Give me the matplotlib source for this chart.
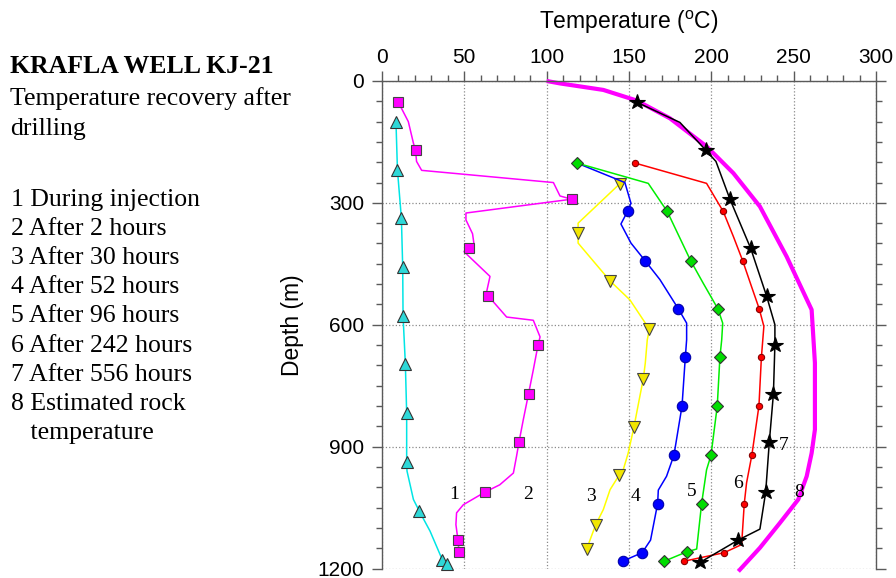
import matplotlib
matplotlib.use('Agg')
import matplotlib.pyplot as plt
from matplotlib.ticker import MultipleLocator

# 1 during injection
t1 = [8.5, 9.4, 11.8, 12.6, 12.8, 14.2, 15.0, 15.0, 15.2, 19.1, 22.7, 29.2, 36.6, 39.7]
d1 = [100, 219, 338, 459, 578, 696, 817, 939, 960, 1030, 1059, 1108, 1178, 1190]
m1 = [0, 1, 2, 3, 4, 5, 6, 7, 10, 12, 13]

# 2 after 2 hours
t2 = [9.9, 16, 19.1, 20.4, 21, 24.1, 104.1, 108.1, 115.1, 51, 51, 55, 55.9, 52.8, 49.8,
      65.6, 63.6, 64.5, 75.7, 91.9, 96, 94.8, 91.9, 89, 85.8, 83.2, 81.7, 79.8, 71.5,
      62.5, 49.4, 45.3, 44.9, 46.2, 46.8]
d2 = [52, 100, 153, 171, 198, 220, 250, 283, 291, 325, 342, 376, 402, 410, 420,
      481, 518, 529, 581, 589, 630, 649, 711, 770, 834, 889, 924, 965, 994,
      1012, 1043, 1063, 1092, 1131, 1160]
m2 = [0, 3, 8, 13, 17, 21, 23, 25, 29, 33, 34]

# 3 after 30 hours
t3 = [144.4, 119.1, 119.1, 119.1, 138.5, 150.6, 162.4, 161.1, 159.9, 158.7, 156.6,
      153, 149.5, 146.5, 143.9, 138.5, 134.4, 129.8, 124.3]
d3 = [253, 350, 373, 399, 492, 539, 611, 637, 694, 733, 776, 852, 916, 957, 971,
      1006, 1055, 1092, 1152]
m3 = [0, 2, 4, 6, 9, 11, 14, 17, 18]

# 4 after 52 hours
t4 = [118.4, 147.5, 151.2, 149.1, 145.1, 151.2, 159.7, 168.8, 180, 185, 185, 184.2,
      182.2, 177.3, 172.8, 167.8, 167.4, 163.1, 158, 146.1]
d4 = [202, 250, 301, 321, 352, 399, 442, 489, 561, 596, 637, 680, 800, 921, 973,
      1007, 1040, 1130, 1161, 1182]
m4 = [3, 6, 8, 11, 12, 13, 16, 18, 19]

# 5 after 96 hours
t5 = [118.4, 161.7, 173.2, 187.4, 195.1, 204, 206.9, 206.3, 205.2, 203.6, 199.8,
      197.1, 194.1, 191.1, 185, 171.4]
d5 = [202, 252, 321, 442, 498, 561, 596, 637, 680, 800, 921, 957, 1040, 1152, 1159, 1182]
m5 = [0, 2, 3, 5, 8, 9, 10, 12, 14, 15]

# 6 after 242 hours
t6 = [153.6, 197.1, 207.2, 213.4, 219, 224.4, 229.1, 231.9, 230.4, 228.9, 224.6,
      221.4, 220, 218.4, 207.8, 183.4]
d6 = [202, 252, 321, 383, 442, 506, 561, 604, 680, 800, 921, 989, 1040, 1141, 1161, 1182]
m6 = [0, 2, 4, 6, 8, 9, 10, 12, 14, 15]

# 7 after 556 hours
t7 = [154.6, 180.9, 196.8, 202.8, 211.3, 223.9, 233.6, 238.6, 238.6, 237.7, 235.2,
      233, 229.5, 216.3, 193.1]
d7 = [52, 102, 171, 198, 291, 412, 530, 600, 649, 770, 889, 1012, 1103, 1130, 1185]
m7 = [0, 2, 4, 5, 6, 8, 9, 10, 11, 13, 14]

# 8 estimated rock temperature
t8 = [100, 108.1, 134.4, 154.6, 174.9, 197.1, 213.4, 229.5, 245.7, 260.9, 262.9,
      262.9, 260.9, 257.9, 252.8, 241.6, 229.5, 216.4]
d8 = [0, 6, 22, 48, 92, 161, 227, 309, 432, 563, 694, 858, 916, 973, 1030, 1088, 1149, 1207]

curve_names = ['1', '2', '3', '4', '5', '6', '7', '8']
name_t = [43.7, 88.5, 126.7, 154.2, 188, 216, 244, 253.4]
name_d = [1019, 1019, 1023, 1023, 1011, 990, 896, 1012]

legend_lines = ['1 During injection', '2 After 2 hours', '3 After 30 hours',
                '4 After 52 hours', '5 After 96 hours', '6 After 242 hours',
                '7 After 556 hours', '8 Estimated rock', '   temperature']

SERIF = ['Liberation Serif', 'DejaVu Serif']
SANS = ['Liberation Sans', 'DejaVu Sans']
GREY = '#5a5a5a'


def curve(ax, t, d, marks, line_color, face, marker, ms, edge):
    ax.plot(t, d, color=line_color, lw=1.1, marker=marker, markevery=marks,
            markersize=ms, markerfacecolor=face, markeredgecolor=edge,
            markeredgewidth=0.8, clip_on=False, zorder=3)


def main():
    plt.rcParams['font.family'] = SANS
    plt.rcParams['mathtext.fontset'] = 'custom'
    plt.rcParams['mathtext.rm'] = 'Liberation Sans'

    fig = plt.figure(figsize=(8.96, 5.78), dpi=100)
    ax = fig.add_axes([0.4263, 0.0164, 0.5514, 0.8435])

    ax.plot(t8, d8, color='#FF00FF', lw=3.0, clip_on=False, zorder=2,
            solid_capstyle='butt')
    curve(ax, t1, d1, m1, '#00E5E5', '#2ED8D8', '^', 8.5, '#333333')
    curve(ax, t2, d2, m2, '#FF00FF', '#FF00FF', 's', 7.0, '#444444')
    curve(ax, t3, d3, m3, '#FFFF00', '#F2E600', 'v', 8.5, '#444444')
    curve(ax, t4, d4, m4, '#0000FF', '#0000FF', 'o', 7.5, '#0000AA')
    curve(ax, t5, d5, m5, '#00EE00', '#00DD00', 'D', 6.5, '#333333')
    curve(ax, t6, d6, m6, '#FF0000', '#FF0000', 'o', 4.5, '#880000')
    curve(ax, t7, d7, m7, '#000000', '#000000', '*', 11.5, '#000000')

    for name, x, y in zip(curve_names, name_t, name_d):
        ax.text(x, y, name, family=SERIF, fontsize=14, ha='center', va='center')

    ax.set_xlim(0, 300)
    ax.set_ylim(1200, 0)
    ax.xaxis.set_major_locator(MultipleLocator(50))
    ax.xaxis.set_minor_locator(MultipleLocator(10))
    ax.yaxis.set_major_locator(MultipleLocator(300))
    ax.yaxis.set_minor_locator(MultipleLocator(50))
    ax.tick_params(axis='x', which='both', bottom=False, top=True,
                   labelbottom=False, labeltop=True)
    ax.tick_params(axis='y', which='both', left=True, right=True,
                   labelleft=True, labelright=False)
    ax.tick_params(which='major', direction='out', length=7, width=1.0,
                   color=GREY, labelsize=15)
    ax.tick_params(axis='x', which='major', pad=3)
    ax.tick_params(axis='y', which='major', pad=6)
    ax.tick_params(which='minor', direction='out', length=4, width=1.0, color=GREY)
    ax.grid(True, which='major', ls=':', color='#8a8a8a', lw=0.9)
    ax.spines['bottom'].set_visible(False)
    for side in ['top', 'left', 'right']:
        ax.spines[side].set_color(GREY)
        ax.spines[side].set_linewidth(1.0)

    fig.text(629 / 896, 1 - 22 / 578, r'Temperature ($\mathregular{^o}$C)',
             fontsize=16.5, ha='center', va='center')
    fig.text(293 / 896, 1 - 325 / 578, 'Depth (m)', fontsize=16.5,
             rotation=90, ha='center', va='center')

    fig.text(10 / 896, 1 - 73 / 578, 'KRAFLA WELL KJ-21', family=SERIF,
             fontsize=18.5, weight='bold', va='baseline')
    fig.text(10 / 896, 1 - 105 / 578, 'Temperature recovery after', family=SERIF,
             fontsize=18.5, va='baseline')
    fig.text(10 / 896, 1 - 135 / 578, 'drilling', family=SERIF,
             fontsize=18.5, va='baseline')
    for i, line in enumerate(legend_lines):
        fig.text(11 / 896, 1 - (206 + 29.1 * i) / 578, line, family=SERIF,
                 fontsize=18.5, va='baseline')

    fig.savefig('out.png', dpi=100)


if __name__ == '__main__':
    main()
